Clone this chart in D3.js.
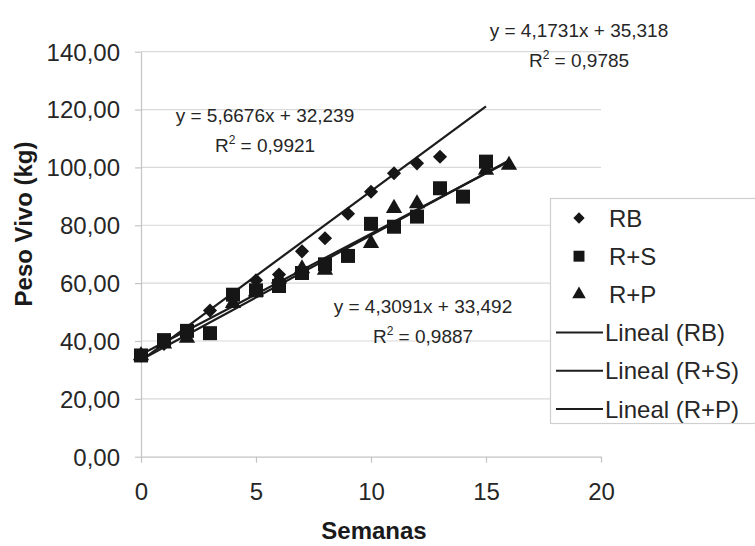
<!DOCTYPE html>
<html>
<head>
<meta charset="utf-8">
<script src="https://cdn.jsdelivr.net/npm/d3@7"></script>
<style>
  body { margin: 0; background: #fff; }
  svg { display: block; font-family: "Liberation Sans", Arial, sans-serif; }
  .grid line { stroke: #d9d9d9; stroke-width: 1.2; }
  .axis path, .axis line { stroke: #c4c4c4; stroke-width: 1.2; }
  .axis text { fill: #262626; font-size: 24px; }
  .title { fill: #1a1a1a; font-size: 24px; font-weight: bold; }
  .eq { fill: #262626; font-size: 19px; }
  .legend text { fill: #262626; font-size: 24px; }
</style>
</head>
<body>
<svg id="chart" width="755" height="546"></svg>
<script>
// values
const xTicks = [0, 5, 10, 15, 20];
const yTicks = [0, 20, 40, 60, 80, 100, 120, 140];

const seriesNames = ['RB', 'R+S', 'R+P'];
const trendNames = ['Lineal (RB)', 'Lineal (R+S)', 'Lineal (R+P)'];

const rbWeeks = [0, 1, 2, 3, 4, 5, 6, 7, 8, 9, 10, 11, 12, 13];
const rbWeight = [35, 39, 42.5, 50.5, 55, 61, 63, 71, 75.5, 84, 91.6, 98, 101.4, 103.7];

const rsWeeks = [0, 1, 2, 3, 4, 5, 6, 7, 8, 9, 10, 11, 12, 13, 14, 15];
const rsWeight = [35, 40.3, 43.5, 42.7, 56, 57.5, 59, 63.5, 66.5, 69.4, 80.5, 79.5, 83, 92.8, 89.9, 102];

const rpWeeks = [0, 1, 2, 4, 5, 6, 7, 8, 10, 11, 12, 15, 16];
const rpWeight = [35, 39, 41, 53, 57, 61.5, 65, 64.5, 73.8, 85.9, 87.5, 99.1, 100.8];

// trend lines: start and end as seen on the picture
const trendStartWeek = [0, 0, 0];
const trendStartWeight = [33.2, 33.5, 35.3];
const trendEndWeek = [15, 16, 16];
const trendEndWeight = [121.1, 102.4, 102.1];

const equations = ['y = 5,6676x + 32,239', 'y = 4,3091x + 33,492', 'y = 4,1731x + 35,318'];
const rSquared = ['0,9921', '0,9887', '0,9785'];

const plot = {left: 141, right: 601, top: 51.7, bottom: 456.7};

const svg = d3.select('#chart');

const x = d3.scaleLinear().domain([0, 20]).range([plot.left, plot.right]);
const y = d3.scaleLinear().domain([0, 140]).range([plot.bottom, plot.top]);

const locale = d3.formatLocale({decimal: ',', thousands: '.', grouping: [3], currency: ['', '']});
const fmt = locale.format('.2f');

// gridlines
svg.append('g')
  .attr('class', 'grid')
  .selectAll('line')
  .data(yTicks.filter(d => d > 0))
  .join('line')
  .attr('x1', plot.left)
  .attr('x2', plot.right)
  .attr('y1', d => y(d))
  .attr('y2', d => y(d));

const xAxis = d3.axisBottom(x).tickValues(xTicks).tickSize(6).tickPadding(20).tickSizeOuter(0);
const yAxis = d3.axisLeft(y).tickValues(yTicks).tickFormat(fmt).tickSize(6).tickPadding(15).tickSizeOuter(0);

svg.append('g')
  .attr('class', 'axis')
  .attr('transform', 'translate(0,' + plot.bottom + ')')
  .call(xAxis);

svg.append('g')
  .attr('class', 'axis')
  .attr('transform', 'translate(' + plot.left + ',0)')
  .call(yAxis)
  .selectAll('text')
  .attr('dy', '0.35em');

// axis titles
svg.append('text')
  .attr('class', 'title')
  .attr('x', (plot.left + plot.right) / 2 + 3)
  .attr('y', 539)
  .attr('text-anchor', 'middle')
  .text('Semanas');

svg.append('text')
  .attr('class', 'title')
  .attr('transform', 'translate(32,' + 224 + ') rotate(-90)')
  .attr('text-anchor', 'middle')
  .text('Peso Vivo (kg)');

// trend lines
const trends = trendStartWeek.map((w, i) => [[w, trendStartWeight[i]], [trendEndWeek[i], trendEndWeight[i]]]);
const line = d3.line().x(d => x(d[0])).y(d => y(d[1]));

svg.append('g')
  .selectAll('path')
  .data(trends)
  .join('path')
  .attr('d', line)
  .attr('fill', 'none')
  .attr('stroke', '#1c1c1c')
  .attr('stroke-width', 2.2);

// markers
const diamond = d3.symbol().type(d3.symbolSquare).size(100);
const square = d3.symbol().type(d3.symbolSquare).size(196);
const triangle = d3.symbol().type(d3.symbolTriangle).size(115);

const markFill = '#161616';

function drawPoints(weeks, weights, shape, rotate) {
  svg.append('g')
    .selectAll('path')
    .data(weeks.map((w, i) => [w, weights[i]]))
    .join('path')
    .attr('d', shape)
    .attr('fill', markFill)
    .attr('transform', d => 'translate(' + x(d[0]) + ',' + y(d[1]) + ')' + (rotate ? ' rotate(45)' : ''));
}

drawPoints(rpWeeks, rpWeight, triangle, false);
drawPoints(rsWeeks, rsWeight, square, false);
drawPoints(rbWeeks, rbWeight, diamond, true);

// equation labels
const eqPos = [[265, 122], [423, 313], [579, 37]];
equations.forEach((eq, i) => {
  const g = svg.append('g').attr('class', 'eq');
  g.append('text')
    .attr('class', 'eq')
    .attr('x', eqPos[i][0])
    .attr('y', eqPos[i][1])
    .attr('text-anchor', 'middle')
    .text(eq);
  const r = g.append('text')
    .attr('class', 'eq')
    .attr('x', eqPos[i][0])
    .attr('y', eqPos[i][1] + 30)
    .attr('text-anchor', 'middle');
  r.append('tspan').text('R');
  r.append('tspan').attr('font-size', 12).attr('dy', -8).text('2');
  r.append('tspan').attr('dy', 8).text(' = ' + rSquared[i]);
});

// legend
const legend = svg.append('g').attr('class', 'legend');
legend.append('rect')
  .attr('x', 550.5)
  .attr('y', 198.5)
  .attr('width', 215)
  .attr('height', 225)
  .attr('fill', '#fff')
  .attr('stroke', '#cfcfcf')
  .attr('stroke-width', 1.2);

const rowY = d3.scalePoint().domain(d3.range(6)).range([218, 409]);
const legendShapes = [
  d3.symbol().type(d3.symbolSquare).size(64),
  d3.symbol().type(d3.symbolSquare).size(120),
  d3.symbol().type(d3.symbolTriangle).size(80)
];

seriesNames.forEach((name, i) => {
  legend.append('path')
    .attr('d', legendShapes[i])
    .attr('fill', markFill)
    .attr('transform', 'translate(579,' + rowY(i) + ')' + (i === 0 ? ' rotate(45)' : ''));
  legend.append('text')
    .attr('x', 609)
    .attr('y', rowY(i))
    .attr('dy', '0.36em')
    .text(name);
});

trendNames.forEach((name, i) => {
  const yy = rowY(i + 3);
  legend.append('line')
    .attr('x1', 556)
    .attr('x2', 603)
    .attr('y1', yy)
    .attr('y2', yy)
    .attr('stroke', '#1c1c1c')
    .attr('stroke-width', 2);
  legend.append('text')
    .attr('x', 605)
    .attr('y', yy)
    .attr('dy', '0.36em')
    .text(name);
});
</script>
</body>
</html>
